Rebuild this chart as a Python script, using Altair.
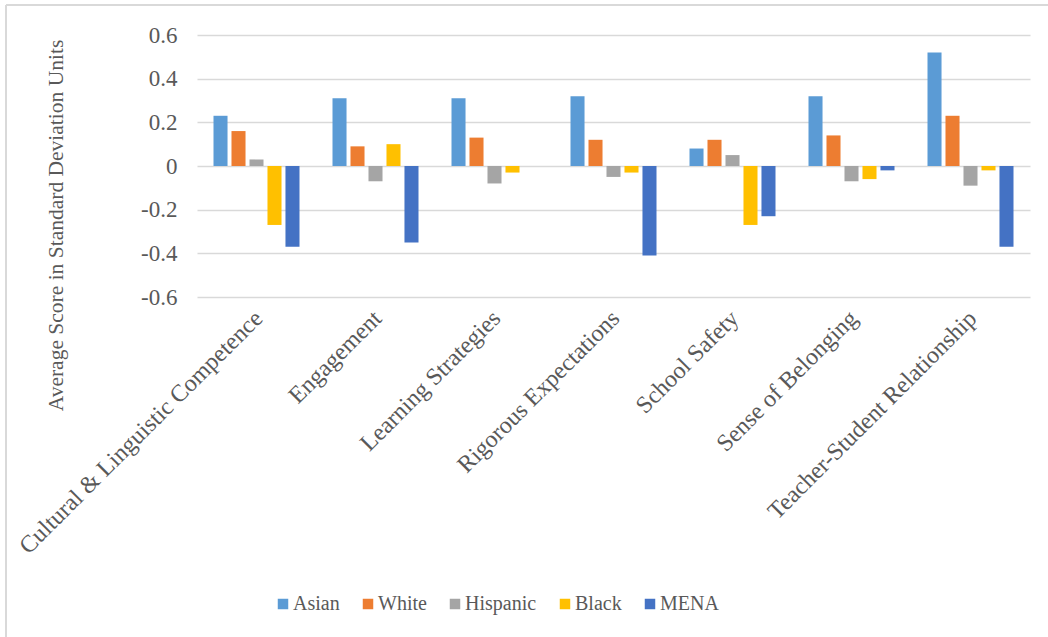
import altair as alt
import pandas as pd

categories = [
    "Cultural & Linguistic Competence",
    "Engagement",
    "Learning Strategies",
    "Rigorous Expectations",
    "School Safety",
    "Sense of Belonging",
    "Teacher-Student Relationship",
]
groups = ["Asian", "White", "Hispanic", "Black", "MENA"]
colors = ["#5B9BD5", "#ED7D31", "#A5A5A5", "#FFC000", "#4472C4"]

asian = [0.23, 0.31, 0.31, 0.32, 0.08, 0.32, 0.52]
white = [0.16, 0.09, 0.13, 0.12, 0.12, 0.14, 0.23]
hispanic = [0.03, -0.07, -0.08, -0.05, 0.05, -0.07, -0.09]
black = [-0.27, 0.10, -0.03, -0.03, -0.27, -0.06, -0.02]
mena = [-0.37, -0.35, 0.0, -0.41, -0.23, -0.02, -0.37]

y_ticks = [-0.6, -0.4, -0.2, 0, 0.2, 0.4, 0.6]

series = [asian, white, hispanic, black, mena]
rows = []
for g, vals in zip(groups, series):
    for c, v in zip(categories, vals):
        rows.append({"category": c, "group": g, "value": v})
df = pd.DataFrame(rows)

FONT = "Times New Roman, Liberation Serif, serif"
TXT = "#595959"
W, H = 833, 262
PAD_L, PAD_T = 197, 35

bars = alt.Chart(df).mark_bar().encode(
    x=alt.X(
        "category:N",
        sort=categories,
        scale=alt.Scale(paddingInner=0.244, paddingOuter=0.122),
        axis=alt.Axis(
            title=None,
            labelAngle=-45,
            labelFont=FONT,
            labelFontSize=24,
            labelColor=TXT,
            labelPadding=9,
            labelOffset=-6,
            domain=False,
            ticks=False,
            labelLimit=600,
        ),
    ),
    xOffset=alt.XOffset(
        "group:N", sort=groups, scale=alt.Scale(paddingInner=0.22, paddingOuter=0.11)
    ),
    y=alt.Y(
        "value:Q",
        scale=alt.Scale(domain=[-0.6, 0.6], nice=False, zero=False),
        axis=alt.Axis(
            title="Average Score in Standard Deviation Units",
            titleFont=FONT,
            titleFontSize=21.5,
            titleFontWeight="normal",
            titleColor=TXT,
            titleX=-135,
            titleY=190,
            titleAngle=270,
            titleBaseline="alphabetic",
            values=y_ticks,
            labelExpr="abs(datum.value) < 1e-9 ? '0' : replace(format(datum.value, '.1f'), '\u2212', '-')",
            labelFont=FONT,
            labelFontSize=23,
            labelColor=TXT,
            labelPadding=20,
            domain=False,
            ticks=False,
            grid=True,
            gridColor="#d9d9d9",
            gridWidth=1.5,
        ),
    ),
    color=alt.Color(
        "group:N",
        sort=groups,
        scale=alt.Scale(domain=groups, range=colors),
        legend=alt.Legend(
            title=None,
            orient="none",
            direction="horizontal",
            legendX=76,
            legendY=559,
            symbolType="square",
            symbolSize=110,
            symbolStrokeWidth=0,
            labelFont=FONT,
            labelFontSize=20,
            labelColor=TXT,
            labelOffset=0,
            columnPadding=18,
            labelExpr="datum.label == 'MENA' ? '\u00a0MENA' : datum.label",
        ),
    ),
)

frame_df = pd.DataFrame({"k": [0]})
left_line = alt.Chart(frame_df).mark_rule(color="#d9d9d9", strokeWidth=2).encode(
    x=alt.value(6 - PAD_L), y=alt.value(5 - PAD_T), y2=alt.value(700)
)
top_line = alt.Chart(frame_df).mark_rule(color="#d9d9d9", strokeWidth=2).encode(
    x=alt.value(6 - PAD_L), x2=alt.value(1000), y=alt.value(5 - PAD_T)
)

chart = (
    alt.layer(left_line, top_line, bars)
    .properties(
        width=W,
        height=H,
        autosize=alt.AutoSizeParams(type="none"),
        padding={"left": PAD_L, "top": PAD_T, "right": 1048 - PAD_L - W, "bottom": 637 - PAD_T - H},
        background="white",
    )
    .configure(font=FONT)
    .configure_view(stroke=None)
    .configure_legend(labelFont=FONT)
    .configure_axis(labelFont=FONT, titleFont=FONT)
)

chart.save("out.html", embed_options={"renderer": "svg", "actions": False})
